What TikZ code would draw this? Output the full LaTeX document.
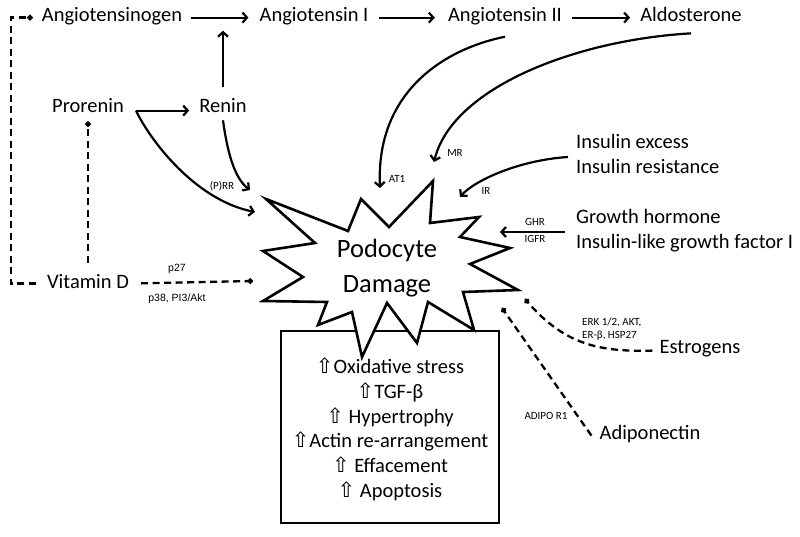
\documentclass[tikz,border=0pt]{standalone}
\usepackage{fontspec}
\setmainfont{Carlito}
\newfontfamily\arialf{Liberation Sans}
\newfontfamily\symf{DejaVu Sans}
\usetikzlibrary{arrows.meta,calc}
\newcommand\myup{{\symf\fontsize{21}{21}\selectfont ⇧}}
\begin{document}
\begin{tikzpicture}[x=1pt,y=-1pt,
  big/.style={font=\fontsize{20.5}{24}\selectfont, inner sep=0pt, anchor=base},
  bigl/.style={big, anchor=base west},
  pod/.style={font=\fontsize{26.5}{30}\selectfont, inner sep=0pt, anchor=base},
  small/.style={font=\fontsize{11}{13}\selectfont, inner sep=0pt},
  smalla/.style={font=\arialf\fontsize{10.5}{12}\selectfont, inner sep=0pt},
  arr/.style={line width=2.2pt, -{Straight Barb[length=4.5pt,width=10pt]}},
  dsh/.style={line width=2.3pt, dash pattern=on 7pt off 4.5pt, -{Circle[length=5.5pt]}},
  outline/.style={line width=2.6pt, line join=miter}
]
\fill[white] (0,0) rectangle (800,537);
\path[use as bounding box] (0,0) rectangle (800,537);

% main labels
\node[big] (ago) at (112,22) {Angiotensinogen};
\node[big] (ang1) at (314,22) {Angiotensin I};
\node[big] (ang2) at (505,22) {Angiotensin II};
\node[big] (ald) at (691,22) {Aldosterone};
\node[big] (pro) at (88,113) {Prorenin};
\node[big] (ren) at (223,113) {Renin};
\node[big] (vitd) at (88,288) {Vitamin D};
\node[bigl] (ins1) at (576,149) {Insulin excess};
\node[bigl] (ins2) at (576,174) {Insulin resistance};
\node[bigl] (gh1) at (576,224) {Growth hormone};
\node[bigl] (gh2) at (576,249) {Insulin-like growth factor I};
\node[big] (est) at (700,353) {Estrogens};
\node[big] (adi) at (650,439) {Adiponectin};

% box with effects
\node[draw, outline, minimum width=218pt, minimum height=192pt, inner sep=0pt] (box) at (390,427) {};
\node[big] (b1) at (390,373) {\myup Oxidative stress};
\node[big] (b2) at (390,398) {\myup TGF-β};
\node[big] (b3) at (390,423) {\myup\ Hypertrophy};
\node[big] (b4) at (390,447) {\myup Actin re-arrangement};
\node[big] (b5) at (390,472) {\myup\ Effacement};
\node[big] (b6) at (390,497) {\myup\ Apoptosis};

% star
\draw[outline, fill=white] (266,199) -- (348,231) -- (361,199) -- (389,227) -- (433,181)
  -- (430,223) -- (479,217) -- (460,237) -- (510,248) -- (470,264) -- (518,290)
  -- (463,292) -- (474,330) -- (428,302) -- (417,343) -- (387,303) -- (362,357)
  -- (352,312) -- (318,325) -- (327,302) -- (263,301) -- (303,277) -- (263,251)
  -- (315,243) -- cycle;
\node[pod] (pod1) at (387,258) {Podocyte};
\node[pod] (pod2) at (387,292) {Damage};

% target points at the star
\coordinate (sPRR) at (255,212);
\coordinate (sRen) at (250,190);
\coordinate (sAT1) at (380,188);
\coordinate (sMR) at (434,162);
\coordinate (sIR) at (460,197);
\coordinate (sGH) at (500,232);
\coordinate (sEst) at (525,299);
\coordinate (sAdi) at (502,308);
\coordinate (sVit) at (253,281);

% RAAS chain
\draw[arr, shorten <=9pt, shorten >=11pt] ([yshift=2pt]ago.mid east) -- ([yshift=2pt]ang1.mid west);
\draw[arr, shorten <=10pt, shorten >=13pt] ([yshift=2pt]ang1.mid east) -- ([yshift=2pt]ang2.mid west);
\draw[arr, shorten <=10pt, shorten >=10pt] ([yshift=2pt]ang2.mid east) -- ([yshift=2pt]ald.mid west);
\draw[arr, shorten <=12pt, shorten >=5pt] (ren.north) -- (ren.north |- ang1.south);
\coordinate (pr) at ([xshift=12pt]pro.mid east);
\draw[arr, shorten >=10pt] (pr) -- (ren.mid west);

% arrows to the star
\draw[arr] (pr) .. controls (150,140) and (195,200) .. (sPRR);
\draw[arr] ([yshift=-7pt]ren.south) .. controls (227,150) and (234,178) .. (sRen);
\draw[arr] ([yshift=-11pt]ang2.south) .. controls (440,50) and (376,95) .. (sAT1);
\draw[arr] ([yshift=-11pt]ald.south) .. controls (575,40) and (452,88) .. (sMR);
\draw[arr] ($(ins1.base west)+(-8,8)$) .. controls (520,160) and (475,180) .. (sIR);
\draw[arr] ($(gh1.base west)+(-11,8)$) -- (sGH);
\draw[dsh] ([xshift=-7pt]est.mid west) .. controls (600,352) and (565,345) .. (sEst);
\draw[dsh] ($(adi.mid west)+(-8,-1)$) -- (sAdi);
\draw[dsh, shorten <=12pt] ([yshift=2pt]vitd.mid east) -- (sVit);
\draw[dsh] ([xshift=-11pt,yshift=2pt]vitd.mid west) -- ++(-25,0) |- ([xshift=-9pt,yshift=2pt]ago.mid west);
\draw[dsh, shorten <=11pt, shorten >=8pt] (vitd.north) -- (pro.south);

% small labels
\node[small] (lprr) at (222,186) {(P)RR};
\node[small] (lat1) at (397,179) {AT1};
\node[small] (lmr) at (455,153) {MR};
\node[small] (lir) at (486,191) {IR};
\node[small] (lghr) at (535,222) {GHR};
\node[small] (ligfr) at (535,239) {IGFR};
\node[smalla] (lp27) at (177,269) {p27};
\node[smalla] (lp38) at (177,299) {p38, PI3/Akt};
\node[small, anchor=west] (lerk) at (582,322) {ERK 1/2, AKT,};
\node[small, anchor=west] (ler) at (582,336) {ER-β, HSP27};
\node[small] (ladipo) at (546,416) {ADIPO R1};
\end{tikzpicture}
\end{document}
